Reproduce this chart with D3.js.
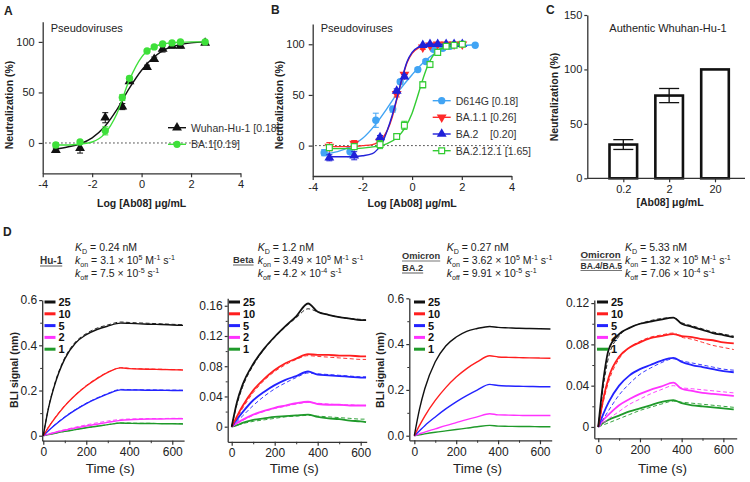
<!DOCTYPE html>
<html><head><meta charset="utf-8">
<script src="https://cdn.jsdelivr.net/npm/d3@7"></script>
<style>
body{margin:0;background:#fff}
svg{display:block}
text{font-family:"Liberation Sans",Arial,Helvetica,sans-serif;fill:#222}
</style>
</head><body>
<svg id="c" width="750" height="482"></svg>
<script>
// ---------------- DATA ----------------
// Panel A
const aDose = [-3.47, -2.49, -1.47, -0.78, -0.49, 0.22, 0.51, 0.85, 1.23, 1.57, 2.57];
const aWuhan = [-7, -5, 25, 36, 61, 75, 83, 93, 96, 96, 99];
const aWuhanErr = [2, 5, 5, 3, 2, 2, 2, 3, 2, 2, 1];
const aBA1 = [-2, 1, 12, 45, 64, 91, 95, 98, 99, 100, 100];
const aBA1Err = [2, 1, 4, 3, 2, 1, 1, 1, 1, 1, 1];
const aFitX = [-3.47, -3, -2.5, -2, -1.5, -1, -0.5, 0, 0.5, 1, 1.5, 2, 2.6];
const aWuhanFit = [-6, -4, -1, 5, 16, 33, 54, 72, 85, 93, 97, 99, 100];
const aBA1Fit = [-2, -2, -1, 1, 9, 29, 62, 85, 95, 98.5, 99.5, 100, 100];
const aLegend = ["Wuhan-Hu-1 [0.18]", "BA.1[0.19]"];

// Panel B
const bDoseD = [-3.54, -2.5, -1.46, -0.78, -0.48, 0.23, 0.55, 0.86, 1.23, 1.53, 2.54];
const bD614G = [-7, -6, 25, 36, 63, 75, 83, 95, 96, 98, 99];
const bD614GErr = [3, 5, 7, 3, 2, 2, 2, 2, 2, 1, 1];
const bDoseBA = [-3.33, -2.33, -1.29, -0.62, -0.31, 0.43, 0.72, 1.03, 1.37, 1.69, 2.02];
const bBA11 = [-1, 2, 4, 51, 70, 97, 99, 100, 100, 100, 100];
const bBA11Err = [4, 3, 3, 3, 2, 2, 1, 1, 1, 1, 1];
const bBA2 = [-12, -10, 8, 54, 68, 99, 100, 100, 100, 100, 100];
const bBA2Err = [3, 4, 2, 2, 2, 1, 1, 1, 1, 1, 1];
const bBA2121 = [-2, -1, 1, 9, 20, 60, 80, 92, 98, 99, 100];
const bBA2121Err = [2, 2, 4, 2, 4, 3, 3, 2, 1, 1, 1];
const bFitXD = [-3.54, -3, -2.5, -2, -1.5, -1, -0.5, 0, 0.5, 1, 1.5, 2, 2.54];
const bD614GFit = [-8, -6, -1, 7, 20, 37, 55, 70, 83, 92, 96, 98.5, 99.5];
const bFitXBA = [-3.33, -2.5, -2, -1.6, -1.4, -1.2, -1, -0.8, -0.6, -0.4, -0.2, 0, 0.3, 0.6, 1, 2.02];
const bBA11Fit = [-1, -1, 0, 1, 3, 7, 15, 28, 47, 66, 82, 91, 97, 99.5, 100, 100];
const bBA2Fit = [-11, -11, -10, -8, -4, 3, 15, 30, 48, 67, 83, 92, 98, 100, 100, 100];
const bFitX2121 = [-3.33, -2.5, -2, -1.5, -1, -0.6, -0.3, 0, 0.2, 0.4, 0.6, 0.8, 1.0, 1.3, 1.7, 2.02];
const bBA2121Fit = [-3, -3, -2.5, -1, 2, 8, 17, 32, 47, 63, 77, 87, 93, 97, 99, 100];
const bLegend = ["D614G [0.18]", "BA.1.1 [0.26]", "BA.2    [0.20]", "BA.2.12.1 [1.65]"];

// Panel C
const cDose = ["0.2", "2", "20"];
const cVal = [31, 76, 100];
const cErr = [4.5, 6.5, 0];

// Panel D
const dConc = ["25", "10", "5", "2", "1"];
const dNames = [["Hu-1"], ["Beta"], ["Omicron", "BA.2"], ["Omicron", "BA.4/BA.5"]];
const dKD = ["0.24", "1.2", "0.27", "5.33"];
const dKonM = ["3.1", "3.49", "3.62", "1.32"];
const dKonE = ["5", "5", "5", "5"];
const dKoffM = ["7.5", "4.2", "9.91", "7.06"];
const dKoffE = ["-5", "-4", "-5", "-4"];

const hu1T = [0, 25, 50, 100, 150, 200, 250, 300, 360, 400, 450, 500, 550, 600, 650];
const hu1Obs = [
  [0, 0.125, 0.215, 0.34, 0.41, 0.447, 0.47, 0.485, 0.498, 0.497, 0.495, 0.493, 0.492, 0.49, 0.488],
  [0, 0.038, 0.072, 0.132, 0.18, 0.22, 0.253, 0.28, 0.30, 0.297, 0.295, 0.294, 0.293, 0.292, 0.291],
  [0, 0.023, 0.044, 0.082, 0.114, 0.142, 0.165, 0.185, 0.203, 0.202, 0.202, 0.201, 0.201, 0.2, 0.2],
  [0, 0.007, 0.013, 0.024, 0.034, 0.043, 0.051, 0.059, 0.068, 0.071, 0.073, 0.074, 0.074, 0.075, 0.075],
  [0, 0.005, 0.01, 0.019, 0.027, 0.035, 0.042, 0.049, 0.056, 0.055, 0.054, 0.054, 0.053, 0.053, 0.052]
];
const hu1Fit = [
  [0, 0.128, 0.22, 0.345, 0.415, 0.452, 0.476, 0.49, 0.503, 0.501, 0.499, 0.497, 0.495, 0.493, 0.491],
  [0, 0.04, 0.074, 0.134, 0.182, 0.222, 0.255, 0.281, 0.301, 0.298, 0.296, 0.295, 0.294, 0.293, 0.292],
  [0, 0.024, 0.046, 0.084, 0.116, 0.144, 0.167, 0.187, 0.205, 0.204, 0.203, 0.203, 0.202, 0.202, 0.201],
  [0, 0.008, 0.015, 0.027, 0.038, 0.048, 0.057, 0.065, 0.072, 0.074, 0.075, 0.076, 0.076, 0.077, 0.077],
  [0, 0.005, 0.01, 0.019, 0.027, 0.035, 0.042, 0.049, 0.056, 0.056, 0.055, 0.055, 0.054, 0.054, 0.054]
];
const betaT = [0, 25, 50, 100, 150, 200, 250, 300, 355, 400, 450, 500, 550, 600, 625];
const betaObs = [
  [0, 0.033, 0.055, 0.083, 0.103, 0.119, 0.133, 0.146, 0.163, 0.152, 0.148, 0.145, 0.143, 0.141, 0.141],
  [0, 0.014, 0.027, 0.048, 0.063, 0.075, 0.084, 0.09, 0.096, 0.095, 0.095, 0.094, 0.094, 0.093, 0.093],
  [0, 0.01, 0.019, 0.035, 0.046, 0.055, 0.062, 0.067, 0.073, 0.069, 0.068, 0.067, 0.066, 0.065, 0.065],
  [0, 0.005, 0.009, 0.016, 0.021, 0.025, 0.028, 0.031, 0.033, 0.03, 0.029, 0.029, 0.028, 0.028, 0.028],
  [0, 0.002, 0.005, 0.009, 0.011, 0.013, 0.014, 0.015, 0.016, 0.013, 0.011, 0.01, 0.008, 0.007, 0.006]
];
const betaFit = [
  [0, 0.03, 0.052, 0.081, 0.102, 0.118, 0.132, 0.144, 0.156, 0.152, 0.148, 0.145, 0.143, 0.142, 0.141],
  [0, 0.012, 0.024, 0.045, 0.061, 0.073, 0.082, 0.089, 0.094, 0.093, 0.092, 0.091, 0.09, 0.089, 0.089],
  [0, 0.007, 0.014, 0.028, 0.04, 0.05, 0.058, 0.065, 0.071, 0.07, 0.069, 0.068, 0.067, 0.066, 0.066],
  [0, 0.004, 0.008, 0.015, 0.02, 0.024, 0.027, 0.03, 0.032, 0.031, 0.03, 0.029, 0.029, 0.028, 0.028],
  [0, 0.002, 0.004, 0.007, 0.009, 0.011, 0.013, 0.014, 0.015, 0.014, 0.013, 0.012, 0.011, 0.01, 0.01]
];
const ba2T = [0, 25, 50, 100, 150, 200, 250, 300, 360, 400, 450, 500, 550, 600, 650];
const ba2Obs = [
  [0, 0.117, 0.205, 0.323, 0.392, 0.431, 0.456, 0.468, 0.477, 0.473, 0.471, 0.469, 0.468, 0.467, 0.466],
  [0, 0.045, 0.086, 0.154, 0.21, 0.256, 0.293, 0.322, 0.349, 0.344, 0.342, 0.341, 0.34, 0.339, 0.338],
  [0, 0.022, 0.044, 0.082, 0.117, 0.148, 0.175, 0.199, 0.224, 0.219, 0.217, 0.216, 0.215, 0.214, 0.214],
  [0, 0.008, 0.016, 0.03, 0.044, 0.057, 0.07, 0.082, 0.096, 0.091, 0.09, 0.089, 0.088, 0.088, 0.088],
  [0, 0.004, 0.008, 0.015, 0.021, 0.027, 0.033, 0.039, 0.045, 0.042, 0.041, 0.04, 0.04, 0.039, 0.039]
];
const ba45T = [0, 25, 50, 100, 150, 200, 250, 300, 360, 400, 450, 500, 550, 600, 650];
const ba45Obs = [
  [0, 0.046, 0.075, 0.09, 0.096, 0.1, 0.102, 0.104, 0.106, 0.1, 0.097, 0.094, 0.091, 0.089, 0.087],
  [0, 0.028, 0.048, 0.068, 0.077, 0.082, 0.086, 0.088, 0.09, 0.088, 0.087, 0.085, 0.084, 0.082, 0.081],
  [0, 0.013, 0.024, 0.04, 0.05, 0.056, 0.06, 0.064, 0.067, 0.063, 0.06, 0.058, 0.056, 0.054, 0.053],
  [0, 0.007, 0.012, 0.021, 0.027, 0.032, 0.036, 0.039, 0.043, 0.037, 0.035, 0.033, 0.032, 0.031, 0.03],
  [0, 0.004, 0.007, 0.011, 0.015, 0.018, 0.021, 0.024, 0.026, 0.023, 0.021, 0.02, 0.019, 0.018, 0.017]
];
const ba45Fit = [
  [0, 0.04, 0.068, 0.088, 0.096, 0.1, 0.103, 0.105, 0.106, 0.101, 0.098, 0.095, 0.092, 0.09, 0.088],
  [0, 0.025, 0.044, 0.066, 0.077, 0.083, 0.087, 0.089, 0.091, 0.087, 0.085, 0.082, 0.079, 0.077, 0.075],
  [0, 0.008, 0.016, 0.031, 0.042, 0.051, 0.057, 0.062, 0.066, 0.064, 0.062, 0.06, 0.058, 0.056, 0.055],
  [0, 0.004, 0.008, 0.015, 0.022, 0.027, 0.032, 0.036, 0.04, 0.038, 0.037, 0.036, 0.035, 0.034, 0.033],
  [0, 0.002, 0.004, 0.008, 0.012, 0.016, 0.019, 0.022, 0.025, 0.024, 0.023, 0.022, 0.021, 0.02, 0.019]
];

// ---------------- DRAWING ----------------
const svg = d3.select("#c");
const AX = "#333";

function styleAxis(g, fs) {
  g.select(".domain").attr("stroke", AX).attr("stroke-width", 1.3);
  g.selectAll(".tick line").attr("stroke", AX).attr("stroke-width", 1.2);
  g.selectAll(".tick text").attr("fill", "#222").style("font-size", fs + "px");
}
function label(txt, x, y, opts = {}) {
  const t = svg.append("text").attr("x", x).attr("y", y).text(txt)
    .style("font-size", (opts.fs || 11) + "px")
    .style("font-weight", opts.bold ? "bold" : "normal")
    .attr("text-anchor", opts.anchor || "start");
  if (opts.rot) t.attr("transform", `rotate(-90,${x},${y})`);
  return t;
}

// ----- Dose response panels -----
function drPanel(o) {
  const x = d3.scaleLinear().domain([-4, 4]).range([o.x0, o.x1]);
  const y = d3.scaleLinear().domain([-30, 120]).range([o.yb, o.yt]);
  const gx = svg.append("g").attr("transform", `translate(0,${o.yb})`)
    .call(d3.axisBottom(x).tickValues([-4, -2, 0, 2, 4]).tickSize(4).tickSizeOuter(0).tickPadding(3).tickFormat(d => String(d)));
  styleAxis(gx, 11);
  const gy = svg.append("g").attr("transform", `translate(${o.x0},0)`)
    .call(d3.axisLeft(y).tickValues([0, 50, 100]).tickSize(4).tickSizeOuter(0).tickPadding(4));
  styleAxis(gy, 11);
  svg.append("line").attr("x1", x(-3.9)).attr("x2", x(4)).attr("y1", y(0)).attr("y2", y(0))
    .attr("stroke", "#333").attr("stroke-width", 1).attr("stroke-dasharray", "1.5,2.5");
  const line = d3.line().x(d => x(d[0])).y(d => y(d[1])).curve(d3.curveMonotoneX);
  o.series.forEach(s => {
    svg.append("path").datum(s.fx.map((v, i) => [v, s.fy[i]])).attr("d", line)
      .attr("fill", "none").attr("stroke", s.color).attr("stroke-width", 1.4);
    const g = svg.append("g");
    s.dx.forEach((v, i) => {
      const e = s.err[i];
      if (e > 1.5) {
        g.append("line").attr("x1", x(v)).attr("x2", x(v)).attr("y1", y(s.dy[i] - e)).attr("y2", y(s.dy[i] + e)).attr("stroke", s.color).attr("stroke-width", 1);
        [s.dy[i] - e, s.dy[i] + e].forEach(yy => g.append("line").attr("x1", x(v) - 3).attr("x2", x(v) + 3).attr("y1", y(yy)).attr("y2", y(yy)).attr("stroke", s.color).attr("stroke-width", 1));
      }
    });
    s.dx.forEach((v, i) => marker(g, s, x(v), y(s.dy[i])));
  });
  o.series.forEach((s, i) => {
    const ly = o.legY[i];
    svg.append("line").attr("x1", o.legX - 9).attr("x2", o.legX + 9).attr("y1", ly).attr("y2", ly).attr("stroke", s.color).attr("stroke-width", 1.4);
    marker(svg, s, o.legX, ly);
    label(s.name, o.legX + 14, ly + 4, { fs: 10.5 }).style("fill", "#333").attr("xml:space", "preserve");
  });
  label("Pseudoviruses", o.x0 + 8, 32, { fs: 11 });
  label("Log [Ab08] \u03bcg/mL", (o.x0 + o.x1) / 2, 207, { fs: 10.5, bold: true, anchor: "middle" });
  label("Neutralization (%)", o.x0 - 30, 105, { fs: 10.5, bold: true, anchor: "middle", rot: true });
}
function marker(g, s, cx, cy) {
  const types = { tri: d3.symbolTriangle, circ: d3.symbolCircle, sq: d3.symbolSquare, itri: d3.symbolTriangle };
  const p = g.append("path").attr("d", d3.symbol().type(types[s.shape]).size(s.shape === "sq" ? 34 : 42)())
    .attr("transform", `translate(${cx},${cy})` + (s.shape === "itri" ? " rotate(180)" : ""));
  if (s.shape === "sq") p.attr("fill", "#fff").attr("stroke", s.color).attr("stroke-width", 1.2);
  else p.attr("fill", s.color);
}

drPanel({
  x0: 42.7, x1: 240.5, yb: 173.3, yt: 21.7, legX: 177, legY: [127.7, 144.3],
  series: [
    { name: aLegend[0], color: "#111", shape: "tri", dx: aDose, dy: aWuhan, err: aWuhanErr, fx: aFitX, fy: aWuhanFit },
    { name: aLegend[1], color: "#3ee03a", shape: "circ", dx: aDose, dy: aBA1, err: aBA1Err, fx: aFitX, fy: aBA1Fit }
  ]
});
drPanel({
  x0: 312.7, x1: 511.5, yb: 176, yt: 24, legX: 441.7, legY: [100.7, 117.3, 134, 150.7],
  series: [
    { name: bLegend[0], color: "#41a4f4", shape: "circ", dx: bDoseD, dy: bD614G, err: bD614GErr, fx: bFitXD, fy: bD614GFit },
    { name: bLegend[1], color: "#ff2a2a", shape: "itri", dx: bDoseBA, dy: bBA11, err: bBA11Err, fx: bFitXBA, fy: bBA11Fit },
    { name: bLegend[2], color: "#2020d8", shape: "tri", dx: bDoseBA, dy: bBA2, err: bBA2Err, fx: bFitXBA, fy: bBA2Fit },
    { name: bLegend[3], color: "#33cc33", shape: "sq", dx: bDoseBA, dy: bBA2121, err: bBA2121Err, fx: bFitX2121, fy: bBA2121Fit }
  ]
});

// ----- Panel C -----
{
  const x = d3.scalePoint().domain(cDose).range([623.3, 715]);
  const y = d3.scaleLinear().domain([0, 150]).range([178.3, 15]);
  const bw = 30;
  svg.append("g").selectAll("rect").data(cVal).join("rect")
    .attr("x", (d, i) => x(cDose[i]) - bw / 2 + 1.2).attr("width", bw - 2.4)
    .attr("y", d => y(d)).attr("height", d => y(0) - y(d))
    .attr("fill", "#fff").attr("stroke", "#111").attr("stroke-width", 2.6);
  cVal.forEach((v, i) => {
    const e = cErr[i]; if (!e) return;
    const cx = x(cDose[i]);
    svg.append("line").attr("x1", cx).attr("x2", cx).attr("y1", y(v - e)).attr("y2", y(v + e)).attr("stroke", "#111").attr("stroke-width", 1.3);
    [v - e, v + e].forEach(yy => svg.append("line").attr("x1", cx - 10).attr("x2", cx + 10).attr("y1", y(yy)).attr("y2", y(yy)).attr("stroke", "#111").attr("stroke-width", 1.3));
  });
  const gx = svg.append("g").attr("transform", `translate(0,${y(0)})`)
    .call(d3.axisBottom(x).tickSize(4).tickSizeOuter(0).tickPadding(3));
  gx.select(".domain").remove();
  styleAxis(gx, 11);
  svg.append("line").attr("x1", 587.3).attr("x2", 745).attr("y1", y(0)).attr("y2", y(0)).attr("stroke", AX).attr("stroke-width", 1.3);
  const gy = svg.append("g").attr("transform", "translate(587.3,0)")
    .call(d3.axisLeft(y).tickValues([0, 50, 100, 150]).tickSize(3).tickSizeOuter(0).tickPadding(2));
  styleAxis(gy, 11);
  label("Authentic Whuhan-Hu-1", 668, 32, { fs: 11, anchor: "middle" });
  label("[Ab08] \u03bcg/mL", 670, 206, { fs: 10.5, bold: true, anchor: "middle" });
  label("Neutralization (%)", 558, 97, { fs: 10.5, bold: true, anchor: "middle", rot: true });
}

// ----- Panel D -----
const dColors = ["#111111", "#ff1e1e", "#2323ff", "#ff33ff", "#1f9a2a"];
function rich(x, y, parts, fs) {
  const t = svg.append("text").attr("x", x).attr("y", y).style("font-size", fs + "px").attr("xml:space", "preserve");
  let shift = 0;
  parts.forEach(p => {
    let kind = "", txt = p;
    const m = p.match(/^(i|sub|sup):(.*)$/);
    if (m) { kind = m[1]; txt = m[2]; }
    const target = kind === "sub" ? 2.5 : kind === "sup" ? -4 : 0;
    const ts = t.append("tspan").text(txt).attr("dy", target - shift);
    shift = target;
    if (kind === "i") ts.style("font-style", "italic");
    if (kind === "sub" || kind === "sup") ts.style("font-size", (fs * 0.68) + "px");
  });
  return t;
}
function bliPanel(o) {
  const x = d3.scaleLinear().domain(o.xd).range(o.xr);
  const y = d3.scaleLinear().domain(o.yd).range(o.yr);
  const gx = svg.append("g").attr("transform", `translate(0,${o.yr[0]})`)
    .call(d3.axisBottom(x).tickValues([0, 200, 400, 600]).tickSize(4).tickSizeOuter(0).tickPadding(3));
  styleAxis(gx, 12);
  svg.append("g").attr("transform", `translate(0,${o.yr[0]})`)
    .call(d3.axisBottom(x).tickValues([100, 300, 500]).tickSize(2.5).tickFormat(""))
    .call(g => { g.select(".domain").remove(); g.selectAll("line").attr("stroke", AX); });
  const gy = svg.append("g").attr("transform", `translate(${o.xr[0]},0)`)
    .call(d3.axisLeft(y).tickValues(o.yt).tickSize(3).tickSizeOuter(0).tickPadding(2).tickFormat(o.fmt));
  styleAxis(gy, 12);
  svg.append("g").attr("transform", `translate(${o.xr[0]},0)`)
    .call(d3.axisLeft(y).tickValues(o.ym).tickSize(2).tickFormat(""))
    .call(g => { g.select(".domain").remove(); g.selectAll("line").attr("stroke", AX); });

  const line = d3.line().x(d => x(d[0])).y(d => y(d[1])).curve(d3.curveMonotoneX);
  for (let i = o.obs.length - 1; i >= 0; i--) {
    svg.append("path").datum(o.T.map((t, j) => [t, o.obs[i][j]])).attr("d", line)
      .attr("fill", "none").attr("stroke", dColors[i]).attr("stroke-width", o.lw);
    if (o.fit) svg.append("path").datum(o.T.map((t, j) => [t, o.fit[i][j]])).attr("d", line)
      .attr("fill", "none").attr("stroke", dColors[i]).attr("stroke-width", 1).attr("stroke-dasharray", "4,2.5").attr("opacity", 0.9);
  }
  dConc.forEach((c, i) => {
    const ly = 302 + i * 11.8;
    svg.append("line").attr("x1", o.legX).attr("x2", o.legX + 11).attr("y1", ly).attr("y2", ly).attr("stroke", dColors[i]).attr("stroke-width", 3);
    label(c, o.legX + 14, ly + 4, { fs: 11, bold: true }).style("fill", "#111");
  });
  const k = o.k;
  o.names.forEach((n, i) => {
    const t = label(n, o.nameX, o.nameY[i], { fs: o.nameFs[i], bold: true }).style("fill", "#333");
    const w = t.node().getComputedTextLength();
    svg.append("line").attr("x1", o.nameX).attr("x2", o.nameX + w).attr("y1", o.nameY[i] + 2).attr("y2", o.nameY[i] + 2).attr("stroke", "#777").attr("stroke-width", 1.2);
  });
  rich(o.hx, 251, ["i:K", "sub:D", " = " + dKD[k] + " nM"], 10.5);
  rich(o.hx, 264, ["i:k", "sub:on", " = " + dKonM[k] + " \u00d7 10", "sup:" + dKonE[k], " M", "sup:-1", " s", "sup:-1"], 10.5);
  rich(o.hx, 277, ["i:k", "sub:off", " = " + dKoffM[k] + " \u00d7 10", "sup:" + dKoffE[k], " s", "sup:-1"], 10.5);
  label("Time (s)", (o.xr[0] + o.xr[1]) / 2 - 3, 473, { fs: 13.5, anchor: "middle" });
  if (o.ylab) label("BLI signal (nm)", o.ylabX, 370, { fs: 10.5, bold: true, anchor: "middle", rot: true });
}

bliPanel({ k: 0, T: hu1T, obs: hu1Obs, fit: hu1Fit, lw: 1.4,
  xd: [-5, 655], xr: [42.2, 184.1], yd: [-0.022, 0.6], yr: [440.7, 300.1],
  yt: [0, 0.2, 0.4, 0.6], ym: [0.1, 0.3, 0.5], fmt: d => d === 0 ? "0" : d3.format(".1f")(d),
  legX: 44.5, names: dNames[0], nameFs: [10], nameX: 40, nameY: [264], hx: 75, ylab: true, ylabX: 18 });
bliPanel({ k: 1, T: betaT, obs: betaObs, fit: betaFit, lw: 1.8,
  xd: [-18.6, 628], xr: [227.7, 366.7], yd: [-0.02, 0.17], yr: [441.8, 298.2],
  yt: [0, 0.04, 0.08, 0.12, 0.16], ym: [0.02, 0.06, 0.1, 0.14], fmt: d => d === 0 ? "0" : d3.format(".2f")(d),
  legX: 229, names: dNames[1], nameFs: [9.5], nameX: 233, nameY: [263], hx: 257.7, ylab: false });
bliPanel({ k: 2, T: ba2T, obs: ba2Obs, fit: null, lw: 1.4,
  xd: [-24, 656], xr: [409.3, 551.7], yd: [-0.02, 0.6], yr: [440.3, 298.3],
  yt: [0, 0.2, 0.4, 0.6], ym: [0.1, 0.3, 0.5], fmt: d3.format(".1f"),
  legX: 414, names: dNames[2], nameFs: [9.3, 9.3], nameX: 402, nameY: [259, 271], hx: 446.7, ylab: true, ylabX: 384 });
bliPanel({ k: 3, T: ba45T, obs: ba45Obs, fit: ba45Fit, lw: 1.8,
  xd: [-19, 664], xr: [594.3, 736.7], yd: [-0.011, 0.123], yr: [438.3, 300],
  yt: [0, 0.04, 0.08, 0.12], ym: [0.02, 0.06, 0.1], fmt: d => d === 0 ? "0" : d3.format(".2f")(d),
  legX: 597, names: dNames[3], nameFs: [9.8, 8.6], nameX: 580.5, nameY: [258, 268.5], hx: 625, ylab: false });

label("A", 4, 15, { fs: 12, bold: true });
label("B", 271, 14, { fs: 12, bold: true });
label("C", 546, 14, { fs: 12, bold: true });
label("D", 3, 236, { fs: 12, bold: true });
</script>
</body></html>
